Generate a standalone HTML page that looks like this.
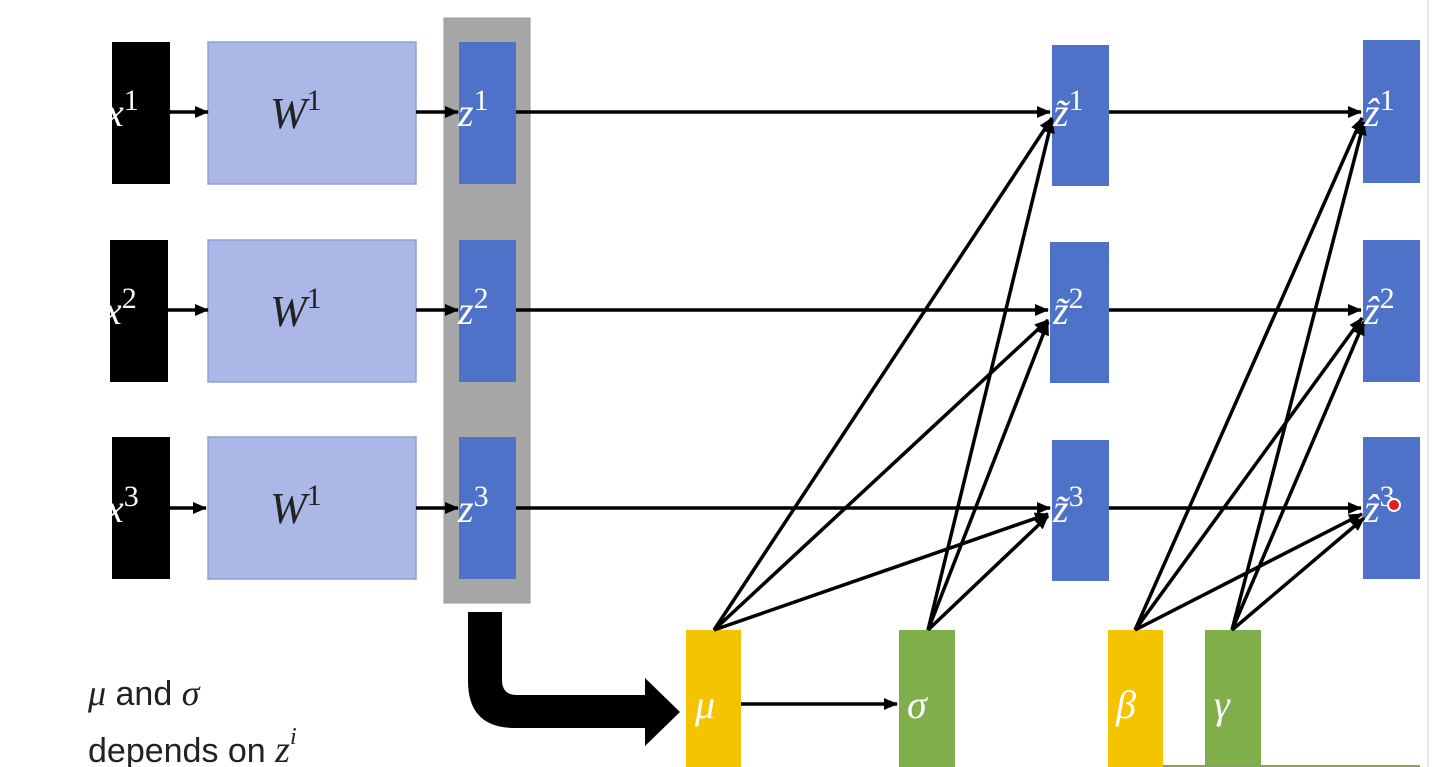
<!DOCTYPE html>
<html><head><meta charset="utf-8"><style>
html,body{margin:0;padding:0;background:#fff;}
svg{display:block;}
.lab{font-family:"Liberation Serif",serif;font-style:italic;fill:#fff;font-size:40px;}
</style></head><body>
<svg width="1432" height="767" viewBox="0 0 1432 767" xmlns="http://www.w3.org/2000/svg">
<defs>
<marker id="ah" markerWidth="14" markerHeight="12" refX="13" refY="6" orient="auto" markerUnits="userSpaceOnUse" viewBox="0 0 14 12">
<path d="M0,0 L14,6 L0,12 z" fill="#000"/>
</marker>
</defs>
<line x1="1428" y1="0" x2="1428" y2="767" stroke="#ccc" stroke-width="1"/>
<rect x="444" y="18" width="86" height="585" fill="#a6a6a6" stroke="#999"/>
<rect x="112" y="42" width="58" height="142" fill="#000"/>
<rect x="110" y="240" width="58" height="142" fill="#000"/>
<rect x="112" y="437" width="58" height="142" fill="#000"/>
<g fill="#aab7e7" stroke="#8ea0d9" stroke-width="1.5">
<rect x="208" y="42" width="208" height="142"/>
<rect x="208" y="240" width="208" height="142"/>
<rect x="208" y="437" width="208" height="142"/>
</g>
<g font-family="Liberation Serif,serif" font-style="italic" font-size="44" fill="#222">
<text x="270" y="128">W<tspan dy="-18" font-style="normal" font-size="30">1</tspan></text>
<text x="270" y="326">W<tspan dy="-18" font-style="normal" font-size="30">1</tspan></text>
<text x="270" y="523">W<tspan dy="-18" font-style="normal" font-size="30">1</tspan></text>
</g>
<g fill="#4f72c9">
<rect x="459" y="42" width="57" height="142"/>
<rect x="459" y="240" width="57" height="142"/>
<rect x="459" y="437" width="57" height="142"/>
<rect x="1052" y="45" width="57" height="141"/>
<rect x="1050" y="242" width="59" height="141"/>
<rect x="1052" y="440" width="57" height="141"/>
<rect x="1363" y="40" width="57" height="143"/>
<rect x="1363" y="240" width="57" height="142"/>
<rect x="1363" y="437" width="57" height="142"/>
</g>
<rect x="686" y="630" width="55" height="137" fill="#f5c400"/>
<rect x="899" y="630" width="56" height="137" fill="#7fae4b"/>
<rect x="1108" y="630" width="55" height="137" fill="#f5c400"/>
<rect x="1205" y="630" width="56" height="137" fill="#7fae4b"/>
<line x1="1163" y1="766" x2="1420" y2="766" stroke="#8aa060" stroke-width="2"/>
<g stroke="#000" stroke-width="3.5" marker-end="url(#ah)">
<line x1="170" y1="112" x2="208" y2="112"/>
<line x1="168" y1="310" x2="208" y2="310"/>
<line x1="170" y1="508" x2="206" y2="508"/>
<line x1="416" y1="112" x2="458" y2="112"/>
<line x1="416" y1="310" x2="458" y2="310"/>
<line x1="416" y1="508" x2="458" y2="508"/>
<line x1="516" y1="112" x2="1050" y2="112"/>
<line x1="516" y1="310" x2="1048" y2="310"/>
<line x1="516" y1="508" x2="1050" y2="508"/>
<line x1="1109" y1="112" x2="1361" y2="112"/>
<line x1="1109" y1="310" x2="1361" y2="310"/>
<line x1="1109" y1="508" x2="1361" y2="508"/>
<line x1="741" y1="704" x2="897" y2="704"/>
<line x1="714" y1="630" x2="1052" y2="118"/>
<line x1="714" y1="630" x2="1048" y2="320"/>
<line x1="714" y1="630" x2="1048" y2="514"/>
<line x1="928" y1="630" x2="1052" y2="120"/>
<line x1="928" y1="630" x2="1048" y2="322"/>
<line x1="928" y1="630" x2="1048" y2="516"/>
<line x1="1135" y1="630" x2="1362" y2="118"/>
<line x1="1135" y1="630" x2="1362" y2="318"/>
<line x1="1135" y1="630" x2="1362" y2="514"/>
<line x1="1232" y1="630" x2="1364" y2="122"/>
<line x1="1232" y1="630" x2="1364" y2="322"/>
<line x1="1232" y1="630" x2="1364" y2="518"/>
</g>
<path d="M468,612 L502,612 L502,680 Q502,695 517,695 L645,695 L645,678 L680,712 L645,746 L645,728 L515,728 Q468,728 468,681 Z" fill="#000"/>
<g class="lab">
<text x="106" y="126">x<tspan dy="-16" font-style="normal" font-size="30">1</tspan></text>
<text x="104" y="324">x<tspan dy="-16" font-style="normal" font-size="30">2</tspan></text>
<text x="106" y="522">x<tspan dy="-16" font-style="normal" font-size="30">3</tspan></text>
<text x="458" y="126">z<tspan dy="-16" font-style="normal" font-size="30">1</tspan></text>
<text x="458" y="324">z<tspan dy="-16" font-style="normal" font-size="30">2</tspan></text>
<text x="458" y="522">z<tspan dy="-16" font-style="normal" font-size="30">3</tspan></text>
<text x="1053" y="126">z̃<tspan dy="-16" font-style="normal" font-size="30">1</tspan></text>
<text x="1053" y="324">z̃<tspan dy="-16" font-style="normal" font-size="30">2</tspan></text>
<text x="1053" y="522">z̃<tspan dy="-16" font-style="normal" font-size="30">3</tspan></text>
<text x="1364" y="126">ẑ<tspan dy="-16" font-style="normal" font-size="30">1</tspan></text>
<text x="1364" y="324">ẑ<tspan dy="-16" font-style="normal" font-size="30">2</tspan></text>
<text x="1364" y="522">ẑ<tspan dy="-16" font-style="normal" font-size="30">3</tspan></text>
<text x="695" y="718">μ</text>
<text x="907" y="718">σ</text>
<text x="1116" y="718">β</text>
<text x="1214" y="718">γ</text>
</g>
<circle cx="1394" cy="505" r="6" fill="#e02020" stroke="#fff" stroke-width="2"/>
<text x="88" y="705" font-family="Liberation Sans,sans-serif" font-size="34" fill="#222"><tspan font-family="Liberation Serif,serif" font-style="italic" font-size="36">μ</tspan> and <tspan font-family="Liberation Serif,serif" font-style="italic" font-size="36">σ</tspan></text>
<text x="88" y="762" font-family="Liberation Sans,sans-serif" font-size="34" fill="#222">depends on <tspan font-family="Liberation Serif,serif" font-style="italic" font-size="38">z</tspan><tspan dy="-18" font-family="Liberation Serif,serif" font-style="italic" font-size="24">i</tspan></text>
</svg>
</body></html>
